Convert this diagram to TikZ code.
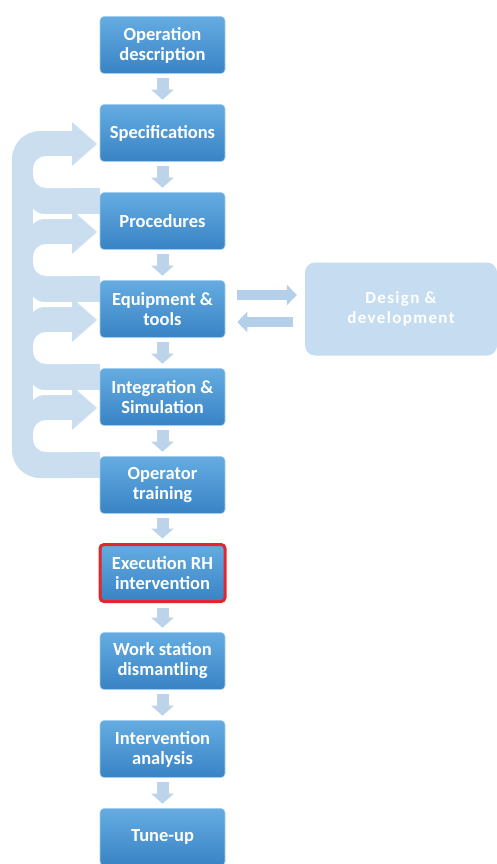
\documentclass[tikz,border=0pt]{standalone}
\usepackage{fontspec}
\setmainfont{Carlito}
\usetikzlibrary{arrows.meta,positioning}

\definecolor{steptop}{HTML}{64ACE1}
\definecolor{stepbot}{HTML}{3983C5}
\definecolor{flowblue}{HTML}{BDD3EA}
\definecolor{loopblue}{HTML}{CADEF0}
\definecolor{devblue}{HTML}{C6DCF0}
\definecolor{markred}{HTML}{E2262B}

\begin{document}
\begin{tikzpicture}[
  x=1pt, y=-1pt,
  stepbox/.style={
    rectangle,
    rounded corners=4pt,
    top color=steptop,
    bottom color=stepbot,
    draw=steptop!60!white,
    line width=0.6pt,
    text=white,
    align=center,
    inner sep=2pt,
    minimum width=125pt,
    minimum height=57pt,
    font=\fontsize{18.5}{20}\selectfont\bfseries
  },
  flow/.style={draw=flowblue, line width=12pt,
    -{Triangle[length=10pt, width=22pt]},
    shorten <=4.5pt, shorten >=4.5pt},
  sideflow/.style={draw=flowblue!90!steptop, line width=10pt,
    -{Triangle[length=10pt, width=20pt]}}
]

\useasboundingbox (0,0) rectangle (497,864);

% feedback loop on the left
\fill[loopblue] (72,131) -- (40,131) arc[start angle=270, end angle=180, radius=28]
  -- (12,450) arc[start angle=180, end angle=90, radius=28] -- (72,478) -- cycle;
\foreach \y in {133,221,309,397} {
  \fill[loopblue] (72,\y+88-33) rectangle (100,\y+88-7);
  \fill[white] (73,\y+23) -- (46,\y+23) arc[start angle=270, end angle=180, radius=13]
    -- (33,\y+88-46) arc[start angle=180, end angle=90, radius=13] -- (73,\y+88-33) -- cycle;
}
\foreach \y in {221,309,397} {
  \fill[white] (73,\y-7) -- (44,\y-7) .. controls (37,\y-7) and (35,\y-11) .. (33,\y-12)
    -- (33,\y+3) .. controls (35,\y+2) and (37,\y-2) .. (44,\y-2) -- (73,\y-2) -- cycle;
}
\foreach \y in {133,221,309,397} {
  \fill[loopblue] (72,\y-11) -- (97,\y+11) -- (72,\y+33) -- cycle;
}

\node[stepbox] (opdesc)   at (162.5,45)  {Operation\\description};
\node[stepbox] (spec)     at (162.5,133) {Specifications};
\node[stepbox] (proc)     at (162.5,221) {Procedures};
\node[stepbox] (equip)    at (162.5,309) {Equipment \&\\tools};
\node[stepbox] (integ)    at (162.5,397) {Integration \&\\Simulation};
\node[stepbox] (optrain)  at (162.5,485) {Operator\\training};
\node[stepbox, draw=markred, line width=3pt] (exec) at (162.5,573) {Execution RH\\intervention};
\node[stepbox] (dismant)  at (162.5,661) {Work station\\dismantling};
\node[stepbox] (analysis) at (162.5,749) {Intervention\\analysis};
\node[stepbox] (tuneup)   at (162.5,837) {Tune-up};

\node[rectangle, rounded corners=10pt, fill=devblue, text=white, align=center,
  minimum width=192pt, minimum height=93pt,
  font=\fontsize{17}{20}\selectfont\bfseries\addfontfeature{LetterSpace=8}]
  (design) at (401,309) {Design \&\\development};

\draw[flow] (opdesc) -- (spec);
\draw[flow] (spec) -- (proc);
\draw[flow] (proc) -- (equip);
\draw[flow] (equip) -- (integ);
\draw[flow] (integ) -- (optrain);
\draw[flow] (optrain) -- (exec);
\draw[flow] (exec) -- (dismant);
\draw[flow] (dismant) -- (analysis);
\draw[flow] (analysis) -- (tuneup);

\draw[sideflow, shorten <=12pt, shorten >=8pt] ([yshift=14pt]equip.east) -- ([yshift=14pt]design.west);
\draw[sideflow, shorten <=12pt, shorten >=12pt] ([yshift=-13pt]design.west) -- ([yshift=-13pt]equip.east);

\end{tikzpicture}
\end{document}
